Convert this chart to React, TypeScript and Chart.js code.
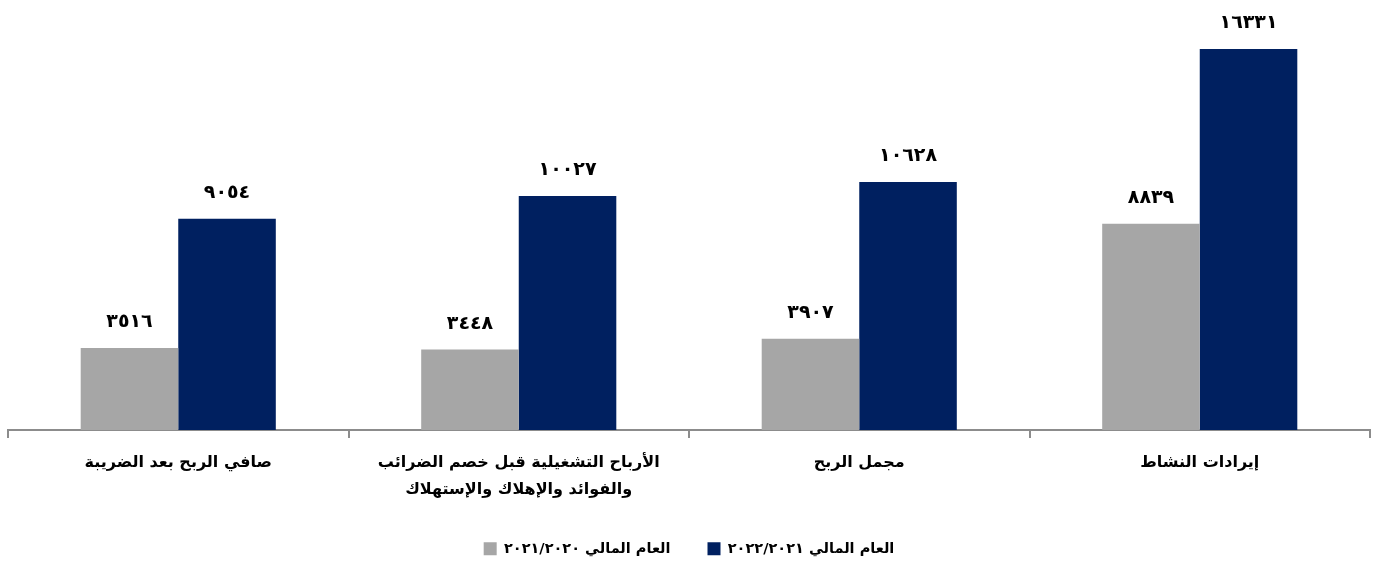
import React, { useEffect, useRef } from 'react';
import { Chart, registerables } from 'chart.js';

Chart.register(...registerables);

const categories: (string | string[])[] = [
  'صافي الربح بعد الضريبة',
  ['الأرباح التشغيلية قبل خصم الضرائب', 'والفوائد والإهلاك والإستهلاك'],
  'مجمل الربح',
  'إيرادات النشاط',
];

const seriesNames = ['العام المالي ٢٠٢١/٢٠٢٠', 'العام المالي ٢٠٢٢/٢٠٢١'];

const values2020_2021 = [3516, 3448, 3907, 8839];
const values2021_2022 = [9054, 10027, 10628, 16331];

const seriesColors = ['#A6A6A6', '#002060'];

const FONT = '"DejaVu Sans", sans-serif';

const arabicDigits = '٠١٢٣٤٥٦٧٨٩';
const toArabic = (n: number) => String(n).replace(/[0-9]/g, (d) => arabicDigits[Number(d)]);

const valueLabels = {
  id: 'valueLabels',
  afterDatasetsDraw(chart: any) {
    const ctx = chart.ctx;
    ctx.save();
    ctx.font = `bold 19px ${FONT}`;
    ctx.fillStyle = '#000000';
    ctx.textAlign = 'center';
    ctx.textBaseline = 'alphabetic';
    chart.data.datasets.forEach((ds: any, i: number) => {
      chart.getDatasetMeta(i).data.forEach((bar: any, j: number) => {
        ctx.fillText(toArabic(ds.data[j]), bar.x, bar.y - 21);
      });
    });
    ctx.restore();
  },
};

const legendShift = {
  id: 'legendShift',
  afterLayout(chart: any) {
    if (chart.legend) {
      chart.legend.top += 4;
      chart.legend.bottom += 4;
    }
  },
};

export default function App() {
  const ref = useRef<HTMLCanvasElement | null>(null);

  useEffect(() => {
    document.body.style.margin = '0';
    if (!ref.current) return;
    const chart = new Chart(ref.current, {
      type: 'bar',
      data: {
        labels: categories,
        datasets: [
          {
            label: seriesNames[0],
            data: values2020_2021,
            backgroundColor: seriesColors[0],
            categoryPercentage: 0.573,
            barPercentage: 1,
          },
          {
            label: seriesNames[1],
            data: values2021_2022,
            backgroundColor: seriesColors[1],
            categoryPercentage: 0.573,
            barPercentage: 1,
          },
        ],
      },
      options: {
        animation: false,
        responsive: true,
        maintainAspectRatio: false,
        layout: { padding: { top: 10, left: 8, right: 11, bottom: 0 } },
        plugins: {
          tooltip: { enabled: false },
          legend: {
            position: 'bottom',
            labels: {
              boxWidth: 13,
              boxHeight: 13,
              padding: 37,
              color: '#000000',
              font: { family: FONT, size: 14.5, weight: 'bold' },
            },
          },
        },
        scales: {
          x: {
            grid: {
              offset: true,
              drawOnChartArea: false,
              drawTicks: true,
              tickLength: 8,
              color: '#8C8C8C',
              lineWidth: 2,
            },
            border: { display: true, color: '#8C8C8C', width: 2 },
            ticks: {
              color: '#000000',
              padding: 12,
              maxRotation: 0,
              autoSkip: false,
              font: { family: FONT, size: 16, weight: 'bold', lineHeight: 1.65 },
            },
            afterFit: (scale: any) => {
              scale.height = 70.5;
            },
          },
          y: {
            display: false,
            min: 0,
            max: 18000,
          },
        },
      },
      plugins: [valueLabels, legendShift],
    });
    return () => chart.destroy();
  }, []);

  return (
    <div style={{ width: '1381px', height: '562px', position: 'relative' }}>
      <canvas ref={ref} />
    </div>
  );
}
